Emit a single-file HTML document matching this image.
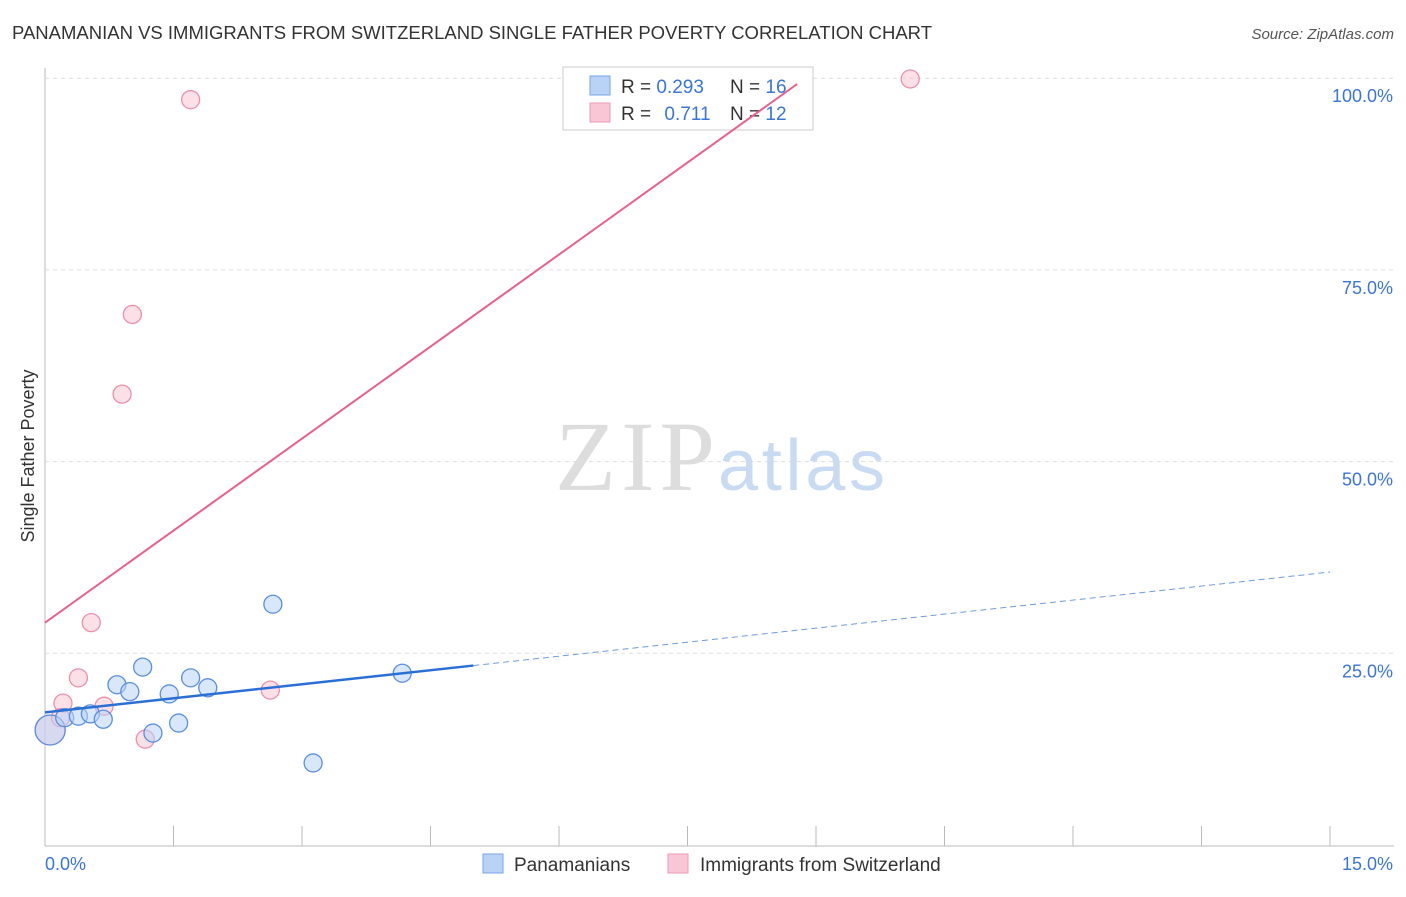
<!DOCTYPE html>
<html><head><meta charset="utf-8"><style>
body{margin:0;background:#fff;font-family:"Liberation Sans",sans-serif}
svg text{font-family:"Liberation Sans",sans-serif}
</style></head><body>
<svg id="c" width="1406" height="892">
<text x="12" y="39" font-size="18.5" fill="#333" textLength="920">PANAMANIAN VS IMMIGRANTS FROM SWITZERLAND SINGLE FATHER POVERTY CORRELATION CHART</text>
<text x="1394" y="39" font-size="15" fill="#555" text-anchor="end" font-style="italic">Source: ZipAtlas.com</text>
<text x="34" y="456" font-size="18" fill="#333" text-anchor="middle" transform="rotate(-90 34 456)">Single Father Poverty</text>
<g id="grid"></g>
<text x="715" y="490" font-size="100" fill="#ddd" text-anchor="end" textLength="160" style="font-family:'Liberation Serif',serif">ZIP</text>
<text x="718" y="490" font-size="72" fill="#c9daf3" textLength="167">atlas</text>
<g>
<rect x="563" y="67" width="250" height="63" fill="#fff" stroke="#ccc"/>
<rect x="590" y="76" width="20" height="19" fill="#b8d3f5" stroke="#7aa6e6"/>
<rect x="590" y="103" width="20" height="19" fill="#f9c6d5" stroke="#ee9ab4"/>
<text x="621" y="93" font-size="19" fill="#333">R = <tspan fill="#3a75d8">0.293</tspan></text>
<text x="730" y="93" font-size="19" fill="#333">N = <tspan fill="#3a75d8">16</tspan></text>
<text x="621" y="120" font-size="19" fill="#333">R = <tspan fill="#3a75d8" dx="8">0.711</tspan></text>
<text x="730" y="120" font-size="19" fill="#333">N = <tspan fill="#3a75d8">12</tspan></text>
</g>
<g id="marks"></g>
<g>
<rect x="483" y="854" width="20" height="19" fill="#b8d3f5" stroke="#7aa6e6"/>
<text x="514" y="871" font-size="19" fill="#333">Panamanians</text>
<rect x="668" y="854" width="20" height="19" fill="#f9c6d5" stroke="#ee9ab4"/>
<text x="700" y="871" font-size="19" fill="#333">Immigrants from Switzerland</text>
</g>
</svg>
<script>
const xTicks=[0,1.5,3,4.5,6,7.5,9,10.5,12,13.5,15];
const yTicks=[25,50,75,100];
const blueX=[0.06,0.23,0.39,0.53,0.68,0.84,0.99,1.14,1.26,1.45,1.56,1.70,1.90,2.66,3.13,4.17];
const blueY=[15.0,16.6,16.8,17.1,16.4,20.9,20.0,23.2,14.6,19.7,15.9,21.8,20.5,31.4,10.7,22.4];
const pinkX=[0.06,0.21,0.18,0.39,0.54,0.69,0.90,1.02,1.17,1.70,2.63,10.10];
const pinkY=[15.0,18.5,16.6,21.8,29.0,18.1,58.8,69.2,13.8,97.2,20.2,99.9];
const blueTrend=[17.3,1.22];
const pinkTrend=[29.0,8.0];
const X=v=>45+v*(1285/15), Y=v=>845-v*7.668;
const NS='http://www.w3.org/2000/svg';
function mk(p,t,a){const e=document.createElementNS(NS,t);for(const k in a)e.setAttribute(k,a[k]);p.appendChild(e);return e;}
const g=document.getElementById('grid'), m=document.getElementById('marks');
let ax=mk(g,'line',{x1:45,y1:68,x2:45,y2:846,stroke:'#bbb'});


let bx=mk(g,'line',{x1:45,y1:846,x2:1394,y2:846,stroke:'#bbb'});


xTicks.forEach((t,i)=>{const l=mk(g,'line',{x1:X(t),x2:X(t),y1:i==0?846:826,y2:846,stroke:'#bbb'});

});
yTicks.forEach(t=>{const l=mk(g,'line',{x1:45,x2:1394,y1:Y(t),y2:Y(t),stroke:'#ddd','stroke-dasharray':'4,4'});


const tx=mk(g,'text',{x:1393,y:Y(t)+24,'font-size':18,fill:'#3a75d8','text-anchor':'end'});tx.textContent=t.toFixed(1)+'%';

});
let l0=mk(g,'text',{x:45,y:870,'font-size':18,fill:'#3a75d8'});l0.textContent='0.0%';


let l1=mk(g,'text',{x:1393,y:870,'font-size':18,fill:'#3a75d8','text-anchor':'end'});l1.textContent='15.0%';


function pts(xs,ys,fill,stroke,name){xs.forEach((x,i)=>{const c=mk(m,'circle',{cx:X(x),cy:Y(ys[i]),r:i==0?15:9,fill:fill,'fill-opacity':0.55,stroke:stroke,'stroke-width':1.3});

});}
pts(pinkX,pinkY,'#f9c6d5','#ee8fae','pink-point');
pts(blueX,blueY,'#b8d3f5','#5b8fe0','blue-point');
let pl=mk(m,'line',{x1:X(0),y1:Y(pinkTrend[0]),x2:X(8.78),y2:Y(pinkTrend[0]+pinkTrend[1]*8.78),stroke:'#e8608d','stroke-width':2});


let bl=mk(m,'line',{x1:X(0),y1:Y(blueTrend[0]),x2:X(5),y2:Y(blueTrend[0]+blueTrend[1]*5),stroke:'#2a6fd6','stroke-width':2.5});


let bd=mk(m,'line',{x1:X(5),y1:Y(blueTrend[0]+blueTrend[1]*5),x2:X(15),y2:Y(blueTrend[0]+blueTrend[1]*15),stroke:'#6d9be0','stroke-width':1,'stroke-dasharray':'6,4'});


</script>
</body></html>
